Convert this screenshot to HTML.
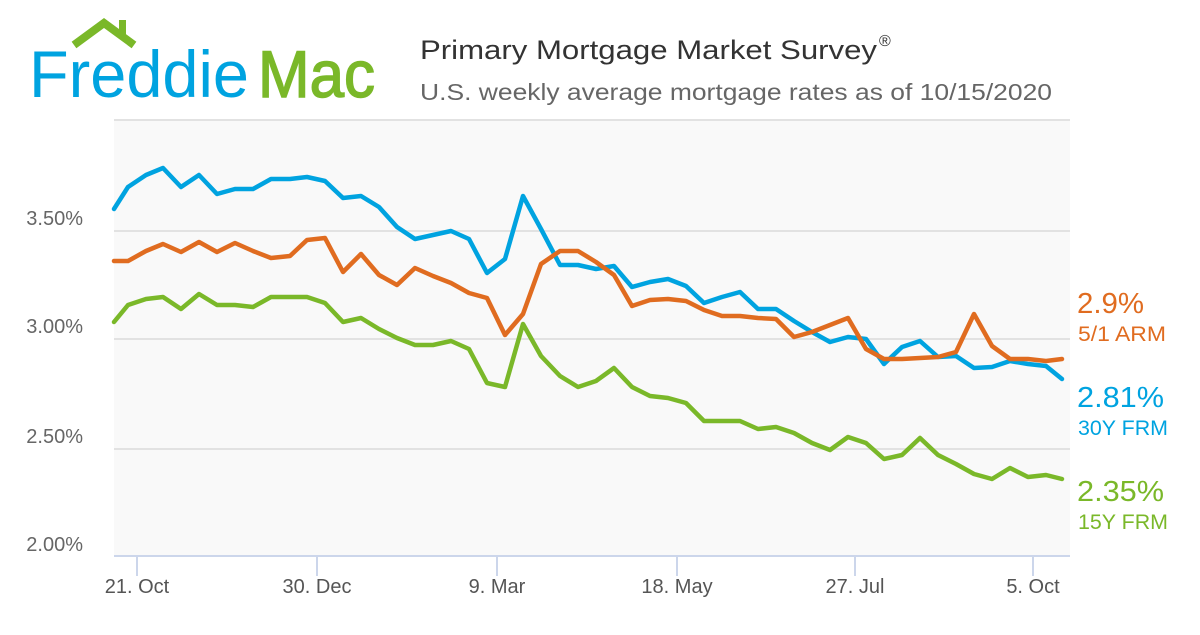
<!DOCTYPE html>
<html><head><meta charset="utf-8"><style>
body{margin:0;background:#fff;width:1200px;height:630px;overflow:hidden;font-family:"Liberation Sans",sans-serif}
</style></head><body>
<svg width="1200" height="630" viewBox="0 0 1200 630" xmlns="http://www.w3.org/2000/svg" font-family="Liberation Sans, sans-serif">
<polyline points="74,45 104,23 134,45" fill="none" stroke="#7ab829" stroke-width="8"/>
<rect x="119" y="20" width="7" height="16" fill="#7ab829"/>
<text x="29" y="97" font-size="66" fill="#00a3e0" textLength="220" lengthAdjust="spacingAndGlyphs">Freddie</text>
<text x="258" y="97" font-size="66" fill="#7ab829" stroke="#7ab829" stroke-width="1.5" textLength="117" lengthAdjust="spacingAndGlyphs">Mac</text>
<text x="420" y="59" font-size="27" fill="#333" textLength="457" lengthAdjust="spacingAndGlyphs">Primary Mortgage Market Survey</text>
<text x="879" y="46" font-size="16" fill="#333">®</text>
<text x="420" y="100" font-size="23" fill="#666" textLength="632" lengthAdjust="spacingAndGlyphs">U.S. weekly average mortgage rates as of 10/15/2020</text>
<rect x="114" y="119" width="956" height="437" fill="#f9f9f9"/>
<g stroke="#e2e2e2" stroke-width="2">
<line x1="114" y1="120" x2="1070" y2="120"/><line x1="114" y1="231" x2="1070" y2="231"/>
<line x1="114" y1="339" x2="1070" y2="339"/><line x1="114" y1="449" x2="1070" y2="449"/>
</g>
<line x1="114" y1="556" x2="1070" y2="556" stroke="#ccd6eb" stroke-width="2"/>
<g stroke="#ccd6eb" stroke-width="2">
<line x1="137" y1="556" x2="137" y2="576"/><line x1="317" y1="556" x2="317" y2="576"/>
<line x1="497" y1="556" x2="497" y2="576"/><line x1="677" y1="556" x2="677" y2="576"/>
<line x1="855" y1="556" x2="855" y2="576"/><line x1="1033" y1="556" x2="1033" y2="576"/>
</g>
<g font-size="20" fill="#666" text-anchor="end">
<text x="83" y="225">3.50%</text><text x="83" y="333">3.00%</text>
<text x="83" y="443">2.50%</text><text x="83" y="551">2.00%</text>
</g>
<g font-size="20" fill="#555" text-anchor="middle">
<text x="137" y="593">21. Oct</text><text x="317" y="593">30. Dec</text>
<text x="497" y="593">9. Mar</text><text x="677" y="593">18. May</text>
<text x="855" y="593">27. Jul</text><text x="1033" y="593">5. Oct</text>
</g>
<g fill="none" stroke-width="4.5" stroke-linejoin="round" stroke-linecap="round">
<polyline stroke="#7ab829" points="114,322 128,305 146,299 163,297 181,309 199,294 217,305 235,305 253,307 271,297 290,297 307,297 325,303 343,322 361,318 379,329 397,338 415,345 433,345 451,341 469,349 487,383 505,387 523,324 541,356 560,376 578,387 596,381 614,368 632,387 650,396 668,398 686,403 704,421 722,421 740,421 758,429 776,427 794,433 812,443 830,450 848,437 866,443 884,459 902,455 920,438 938,455 956,464 974,474 992,479 1010,468 1028,477 1046,475 1062,479"/>
<polyline stroke="#00a3e0" points="114,209 128,187 146,175 163,168 181,187 199,175 217,194 235,189 253,189 271,179 290,179 307,177 325,181 343,198 361,196 379,207 397,227 415,239 433,235 451,231 469,239 487,273 505,259 523,196 541,229 560,265 578,265 596,269 614,266 632,287 650,282 668,279 686,286 704,303 722,297 740,292 758,309 776,309 794,321 812,332 830,342 848,337 866,339 884,364 902,347 920,341 938,357 956,356 974,368 992,367 1010,361 1028,364 1046,366 1062,379"/>
<polyline stroke="#e06c20" points="114,261 128,261 146,251 163,244 181,252 199,242 217,252 235,243 253,251 271,258 290,256 307,240 325,238 343,272 361,254 379,275 397,285 415,268 433,276 451,283 469,293 487,298 505,335 523,314 541,264 560,251 578,251 596,262 614,275 632,306 650,300 668,299 686,301 704,310 722,316 740,316 758,318 776,319 794,337 812,332 830,325 848,318 866,349 884,359 902,359 920,358 938,357 956,352 974,314 992,346 1010,359 1028,359 1046,361 1062,359"/>
</g>
<g font-size="29">
<text x="1077" y="313" fill="#e06c20" textLength="67" lengthAdjust="spacingAndGlyphs">2.9%</text>
<text x="1077" y="407" fill="#00a3e0" textLength="87" lengthAdjust="spacingAndGlyphs">2.81%</text>
<text x="1077" y="501" fill="#7ab829" textLength="87" lengthAdjust="spacingAndGlyphs">2.35%</text>
</g>
<g font-size="21">
<text x="1078" y="341" fill="#e06c20" textLength="88" lengthAdjust="spacingAndGlyphs">5/1 ARM</text>
<text x="1078" y="435" fill="#00a3e0" textLength="90" lengthAdjust="spacingAndGlyphs">30Y FRM</text>
<text x="1078" y="529" fill="#7ab829" textLength="90" lengthAdjust="spacingAndGlyphs">15Y FRM</text>
</g>
</svg>
</body></html>
